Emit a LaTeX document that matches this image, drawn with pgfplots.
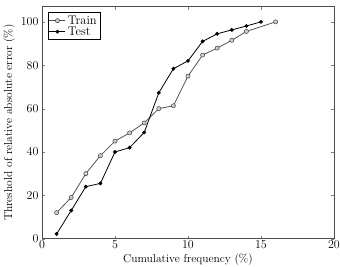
\documentclass[border=0pt]{standalone}
\usepackage{pgfplots}
\pgfplotsset{compat=1.18}
\begin{document}
\begin{tikzpicture}[font=\fontsize{11.5}{13}\selectfont]
\begin{axis}[
  name=ax,
  scale only axis,
  width=292pt, height=232pt,
  xmin=0, xmax=20, ymin=0, ymax=107,
  xtick={0,5,10,15,20}, ytick={0,20,40,60,80,100},
  xlabel={Cumulative frequency (\%)},
  ylabel={Threshold of relative absolute error (\%)},
  xlabel style={yshift=2pt},
  ylabel style={yshift=-1pt},
  tick label style={font=\fontsize{11.5}{13}\selectfont},
  label style={font=\fontsize{11.5}{13}\selectfont},
  xticklabel style={yshift=1pt},
  tick align=inside,
  major tick length=3pt,
  axis line style={gray!60!black},
  legend style={at={(0.02,0.975)}, anchor=north west, font=\fontsize{12.5}{13}\selectfont, inner sep=1pt, row sep=-3pt, draw=black},
  legend cell align=left,
  legend image code/.code={\draw[#1] (0pt,0pt) -- (16pt,0pt); \draw[#1,only marks] plot coordinates {(8pt,0pt)};},
]
\addplot[gray!65!black, thick, mark=*, mark size=2.1pt, mark options={fill=gray!40, draw=gray!30!black, thin}]
coordinates {(1,12) (2,19) (3,30) (4,38.3) (5,45) (6,48.8) (7,53.4) (8,60) (9,61.3) (10,75) (11,84.7) (12,87.9) (13,91.5) (14,95.6) (16,100)};
\addlegendentry{Train}
\addplot[black, thick, mark=*, mark size=1.5pt]
coordinates {(1,2.2) (2,13) (3,24) (4,25.5) (5,40) (6,42) (7,49) (8,67.3) (9,78.4) (10,82) (11,91) (12,94.5) (13,96.3) (14,98.1) (15,100)};
\addlegendentry{Test}
\end{axis}
\pgfresetboundingbox
\path[use as bounding box] ([shift={(-42pt,-28pt)}]ax.south west) rectangle ([shift={(6pt,6.7pt)}]ax.north east);
\end{tikzpicture}
\end{document}
